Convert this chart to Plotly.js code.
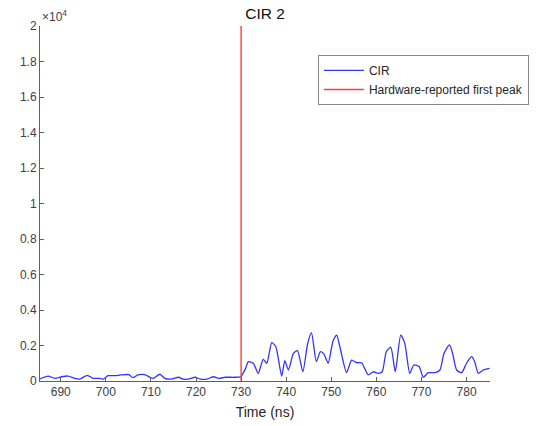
<!DOCTYPE html>
<html>
<head>
<meta charset="utf-8">
<script src="https://cdn.plot.ly/plotly-3.0.1.min.js"></script>
<style>html,body{margin:0;padding:0;background:#fff;}#chart{width:537px;height:426px;}</style>
</head>
<body>
<div id="chart"></div>
<script>
// CIR time axis (ns) and amplitude
const cirTime = [685.3,687.2,688.7,690.2,691.6,693.1,694.2,695.9,697.2,698.7,699.4,700.5,702.0,703.4,705.1,706.0,707.1,708.6,709.8,710.5,712.0,713.1,714.6,716.1,717.2,718.3,719.8,720.9,722.4,723.9,725.0,726.5,728.4,729.9,731.0,731.6,732.7,733.8,734.9,735.7,736.8,737.7,739.0,739.7,740.5,741.6,742.5,743.7,744.7,745.6,746.7,747.6,748.4,749.3,750.4,751.2,751.9,753.4,754.5,755.6,756.7,758.2,759.3,760.4,761.3,762.2,763.2,764.2,765.4,766.3,767.4,768.3,769.5,770.4,771.5,773.0,774.1,775.0,776.2,776.9,777.8,778.9,780.0,781.1,781.8,782.6,783.7,785.1];
const cirValue = [110,280,150,240,280,150,110,320,150,150,100,300,300,340,360,190,340,360,210,150,380,150,110,210,100,110,210,110,110,240,150,210,210,240,710,1090,1000,430,1220,1000,2160,1930,280,1140,620,1560,1710,520,2030,2720,1090,1650,1500,1000,2270,2590,1930,470,1180,1030,1030,340,520,430,520,1650,1900,520,2590,2120,430,900,800,210,470,470,620,1560,2030,1560,620,470,1000,1370,1090,430,620,710];
// hardware-reported first peak
const peakTime = [730, 730];
const peakValue = [0, 20000];
const yTickVals = [0,2000,4000,6000,8000,10000,12000,14000,16000,18000,20000];
const yTickText = ['0','0.2','0.4','0.6','0.8','1','1.2','1.4','1.6','1.8','2'];
const xTickVals = [690,700,710,720,730,740,750,760,770,780];

const fontFam = 'Liberation Sans, Arial, sans-serif';
const axisCol = '#606060';
const data = [
  {x: cirTime, y: cirValue, type: 'scatter', mode: 'lines', name: 'CIR',
   line: {color: '#3333ff', width: 1.3, shape: 'spline', smoothing: 0.6}},
  {x: peakTime, y: peakValue, type: 'scatter', mode: 'lines', name: 'Hardware-reported first peak',
   line: {color: '#ff3b3b', width: 1.4}}
];
const layout = {
  width: 537, height: 426,
  margin: {l: 40, r: 47, t: 26, b: 45, autoexpand: false},
  paper_bgcolor: '#fff', plot_bgcolor: '#fff',
  font: {family: fontFam, size: 12, color: '#404040'},
  title: {text: 'CIR 2', x: 0.5, xref: 'paper', y: 0.967, yanchor: 'middle',
          font: {family: fontFam, size: 15.5, color: '#111'}},
  xaxis: {range: [685.4, 785.2], tickvals: xTickVals, ticks: 'inside', ticklen: 4,
          tickcolor: axisCol, showline: true, linecolor: axisCol, linewidth: 1,
          showgrid: false, zeroline: false, tickfont: {size: 12, color: '#404040'}, automargin: false,
          title: {text: 'Time (ns)', font: {size: 14, color: '#262626'}, standoff: 8}},
  yaxis: {range: [0, 20000], tickvals: yTickVals, ticktext: yTickText, ticks: 'inside', ticklen: 4,
          tickcolor: axisCol, showline: true, linecolor: axisCol, linewidth: 1, automargin: false,
          showgrid: false, zeroline: false, tickfont: {size: 12, color: '#404040'}},
  legend: {x: 0.592, y: 0.871, xref: 'container', yref: 'container', xanchor: 'left', yanchor: 'top', bgcolor: '#fff',
           bordercolor: '#888', borderwidth: 1, font: {size: 12, color: '#262626'},
           tracegroupgap: 0, itemwidth: 40},
  showlegend: true,
  annotations: [{text: '×10<sup>4</sup>', xref: 'paper', yref: 'paper', x: 0.0, y: 1.0,
                 xanchor: 'left', yanchor: 'bottom', showarrow: false,
                 font: {size: 12, color: '#404040'}}]
};
Plotly.newPlot('chart', data, layout, {displayModeBar: false, staticPlot: true});
</script>
</body>
</html>
